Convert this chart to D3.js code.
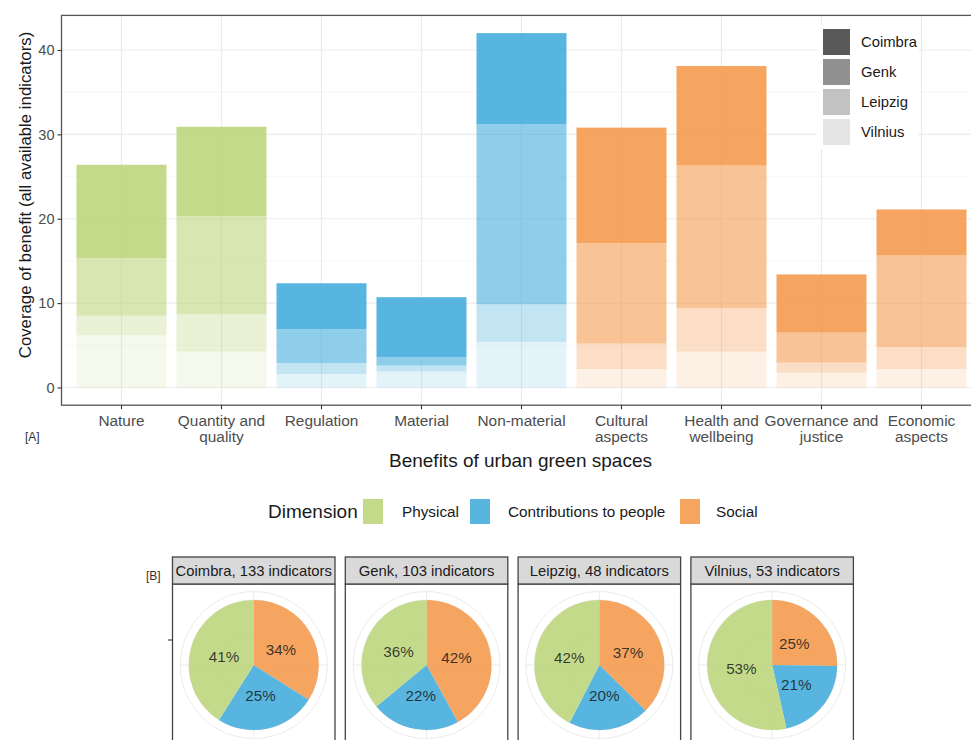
<!DOCTYPE html>
<html>
<head>
<meta charset="utf-8">
<script src="https://cdn.jsdelivr.net/npm/d3@7"></script>
<style>
  html, body { margin: 0; padding: 0; background: #fff; }
  svg { display: block; font-family: "Liberation Sans", Arial, Helvetica, sans-serif; }
</style>
</head>
<body>
<svg id="chart" width="971" height="740"></svg>
<script>
// ---- data ----
const benefits = ["Nature", "Quantity and quality", "Regulation", "Material", "Non-material",
  "Cultural aspects", "Health and wellbeing", "Governance and justice", "Economic aspects"];
const benefitLabels = [["Nature"], ["Quantity and", "quality"], ["Regulation"], ["Material"], ["Non-material"],
  ["Cultural", "aspects"], ["Health and", "wellbeing"], ["Governance and", "justice"], ["Economic", "aspects"]];
const benefitDimension = ["Physical", "Physical", "Contributions to people", "Contributions to people",
  "Contributions to people", "Social", "Social", "Social", "Social"];

// coverage per city (stacked from the bottom: Vilnius, Leipzig, Genk, Coimbra)
const vilnius = [6.2, 4.25, 1.6, 1.9, 5.4, 2.2, 4.25, 1.75, 2.2];
const leipzig = [2.3, 4.45, 1.3, 0.7, 4.45, 3.0, 5.15, 1.2, 2.6];
const genk    = [6.8, 11.6, 4.0, 1.0, 21.35, 11.9, 16.9, 3.55, 10.9];
const coimbra = [11.1, 10.6, 5.45, 7.1, 10.8, 13.7, 11.8, 6.9, 5.4];

const cities = ["Coimbra", "Genk", "Leipzig", "Vilnius"];
const stackOrder = ["Vilnius", "Leipzig", "Genk", "Coimbra"];
const cityValues = { Coimbra: coimbra, Genk: genk, Leipzig: leipzig, Vilnius: vilnius };

const dimensions = ["Physical", "Contributions to people", "Social"];
const yTicks = [0, 10, 20, 30, 40];

// share of indicators per dimension, per city
const pieTitles = ["Coimbra, 133 indicators", "Genk, 103 indicators", "Leipzig, 48 indicators", "Vilnius, 53 indicators"];
const pieSocial        = [34, 42, 37, 25];
const pieContributions = [25, 22, 20, 21];
const piePhysical      = [41, 36, 42, 53];

// ---- styles ----
const dimColor = d3.scaleOrdinal().domain(dimensions).range(["#bed67e", "#45addc", "#f49b4f"]);
const cityAlpha = d3.scaleOrdinal().domain(cities).range([0.9, 0.6, 0.33, 0.15]);
const legendGrey = "#474747";

const svg = d3.select("#chart");

// ---- panel A: stacked bars ----
const panel = { left: 61.5, right: 981.5, top: 15.4, bottom: 405.2 };
const x = d3.scaleBand().domain(benefits).range([71.5, 971.5]).paddingInner(0.1).paddingOuter(0.05);
const y = d3.scaleLinear().domain([-2.1, 44.1]).range([panel.bottom, panel.top]);

const gA = svg.append("g");
gA.append("rect").attr("x", panel.left).attr("y", panel.top)
  .attr("width", panel.right - panel.left).attr("height", panel.bottom - panel.top).attr("fill", "#fff");

// minor and major grid
const minor = d3.range(5, 44, 10);
gA.selectAll("line.minor").data(minor).join("line")
  .attr("x1", panel.left).attr("x2", panel.right)
  .attr("y1", d => y(d)).attr("y2", d => y(d))
  .attr("stroke", "#f3f3f3").attr("stroke-width", 0.7);
gA.selectAll("line.majorY").data(yTicks).join("line")
  .attr("x1", panel.left).attr("x2", panel.right)
  .attr("y1", d => y(d)).attr("y2", d => y(d))
  .attr("stroke", "#ebebeb").attr("stroke-width", 1.2);
gA.selectAll("line.majorX").data(benefits).join("line")
  .attr("x1", d => x(d) + x.bandwidth() / 2).attr("x2", d => x(d) + x.bandwidth() / 2)
  .attr("y1", panel.top).attr("y2", panel.bottom)
  .attr("stroke", "#ebebeb").attr("stroke-width", 1.2);

// stacked segments
const rows = benefits.map((b, i) => {
  const r = { benefit: b, dim: benefitDimension[i] };
  stackOrder.forEach(c => { r[c] = cityValues[c][i]; });
  return r;
});
const series = d3.stack().keys(stackOrder)(rows);
series.forEach(s => {
  gA.append("g").selectAll("rect").data(s).join("rect")
    .attr("x", d => x(d.data.benefit))
    .attr("width", x.bandwidth())
    .attr("y", d => y(d[1]))
    .attr("height", d => y(d[0]) - y(d[1]))
    .attr("fill", d => dimColor(d.data.dim))
    .attr("fill-opacity", cityAlpha(s.key));
});

// city legend inside the panel
const lg = gA.append("g");
lg.append("rect").attr("x", 817).attr("y", 25).attr("width", 101).attr("height", 124).attr("fill", "#fff");
cities.forEach((c, i) => {
  const ky = 29 + i * 30;
  lg.append("rect").attr("x", 823).attr("y", ky).attr("width", 27).attr("height", 26)
    .attr("fill", legendGrey).attr("fill-opacity", cityAlpha(c));
  lg.append("text").attr("x", 861).attr("y", ky + 13).attr("dy", "0.35em")
    .attr("font-size", 14.8).attr("fill", "#1a1a1a").text(c);
});

gA.append("rect").attr("x", panel.left).attr("y", panel.top)
  .attr("width", panel.right - panel.left).attr("height", panel.bottom - panel.top)
  .attr("fill", "none").attr("stroke", "#555").attr("stroke-width", 1.3);

// y axis
const yAxis = gA.append("g").attr("transform", `translate(${panel.left},0)`)
  .call(d3.axisLeft(y).tickValues(yTicks).tickSize(4).tickPadding(3));
yAxis.select(".domain").remove();
yAxis.selectAll(".tick line").attr("stroke", "#333").attr("stroke-width", 1.1);
yAxis.selectAll(".tick text").attr("font-size", 14.6).attr("fill", "#4d4d4d")
  .attr("font-family", "Liberation Sans, Arial, sans-serif");

// x axis
const xAxis = gA.append("g").attr("transform", `translate(0,${panel.bottom})`)
  .call(d3.axisBottom(x).tickSize(4).tickFormat(""));
xAxis.select(".domain").remove();
xAxis.selectAll(".tick line").attr("stroke", "#333").attr("stroke-width", 1.1);
xAxis.selectAll(".tick").each(function (d, i) {
  const t = d3.select(this).append("text").attr("fill", "#4d4d4d").attr("font-size", 15.4)
    .attr("font-family", "Liberation Sans, Arial, sans-serif")
    .attr("text-anchor", "middle");
  benefitLabels[i].forEach((line, j) => {
    t.append("tspan").attr("x", 0).attr("y", 21 + j * 16).text(line);
  });
});

// titles
svg.append("text").attr("transform", "translate(31,195) rotate(-90)")
  .attr("text-anchor", "middle").attr("font-size", 16.8).attr("fill", "#1a1a1a")
  .text("Coverage of benefit (all available indicators)");
svg.append("text").attr("x", (panel.left + panel.right) / 2 - 1).attr("y", 467)
  .attr("text-anchor", "middle").attr("font-size", 19).attr("fill", "#1a1a1a")
  .text("Benefits of urban green spaces");
svg.append("text").attr("x", 25).attr("y", 441).attr("font-size", 12).attr("fill", "#333").text("[A]");

// dimension legend
const dl = svg.append("g");
dl.append("text").attr("x", 268).attr("y", 518).attr("font-size", 19).attr("fill", "#1a1a1a").text("Dimension");
const dimLegendPos = [{ k: 363, t: 402 }, { k: 470, t: 508 }, { k: 680, t: 716 }];
dimensions.forEach((dm, i) => {
  dl.append("rect").attr("x", dimLegendPos[i].k).attr("y", 499).attr("width", 20).attr("height", 25)
    .attr("fill", dimColor(dm)).attr("fill-opacity", 0.9);
  dl.append("text").attr("x", dimLegendPos[i].t).attr("y", 517).attr("font-size", 15.3)
    .attr("fill", "#1a1a1a").text(dm);
});

// ---- panel B: pies ----
svg.append("text").attr("x", 146).attr("y", 580).attr("font-size", 12).attr("fill", "#333").text("[B]");
svg.append("line").attr("x1", 168).attr("x2", 172).attr("y1", 640).attr("y2", 640)
  .attr("stroke", "#333").attr("stroke-width", 1.1);

const facetX = d3.scaleBand().domain(pieTitles).range([172.5, 853.4]).paddingInner(0.0596);
const stripTop = 557, stripH = 27, R = 65, cy = 665;
const pie = d3.pie().sort(null).value(d => d.v);
const arc = d3.arc().innerRadius(0).outerRadius(R);
const labelArc = d3.arc().innerRadius(31).outerRadius(31);

pieTitles.forEach((title, i) => {
  const x0 = facetX(title), w = facetX.bandwidth();
  const cx = x0 + w / 2;
  const g = svg.append("g");
  // panel
  g.append("rect").attr("x", x0).attr("y", stripTop + stripH).attr("width", w).attr("height", 200)
    .attr("fill", "#fff").attr("stroke", "#444").attr("stroke-width", 1.3);
  // polar grid
  const pg = g.append("g").attr("transform", `translate(${cx},${cy})`);
  [R * 0.5, R, R * 1.13].forEach(r => pg.append("circle").attr("r", r)
    .attr("fill", "none").attr("stroke", "#ebebeb").attr("stroke-width", 1));
  [0, 90, 180, 270].forEach(a => {
    const t = a * Math.PI / 180;
    pg.append("line").attr("x1", 0).attr("y1", 0)
      .attr("x2", R * 1.13 * Math.sin(t)).attr("y2", -R * 1.13 * Math.cos(t))
      .attr("stroke", "#ebebeb").attr("stroke-width", 1);
  });
  const slices = pie([
    { dim: "Social", v: pieSocial[i] },
    { dim: "Contributions to people", v: pieContributions[i] },
    { dim: "Physical", v: piePhysical[i] }
  ]);
  pg.selectAll("path").data(slices).join("path")
    .attr("d", arc).attr("fill", d => dimColor(d.data.dim)).attr("fill-opacity", 0.9);
  pg.selectAll("text").data(slices).join("text")
    .attr("transform", d => `translate(${labelArc.centroid(d)})`)
    .attr("text-anchor", "middle").attr("dy", "0.35em")
    .attr("font-size", 15.2).attr("fill", "#1a1a1a").attr("fill-opacity", 0.85)
    .text(d => d.data.v + "%");
  // strip
  g.append("rect").attr("x", x0).attr("y", stripTop).attr("width", w).attr("height", stripH)
    .attr("fill", "#d9d9d9").attr("stroke", "#444").attr("stroke-width", 1.3);
  g.append("text").attr("x", cx).attr("y", stripTop + stripH / 2).attr("dy", "0.35em")
    .attr("text-anchor", "middle").attr("font-size", 14.8).attr("fill", "#1a1a1a").text(title);
});
</script>
</body>
</html>
